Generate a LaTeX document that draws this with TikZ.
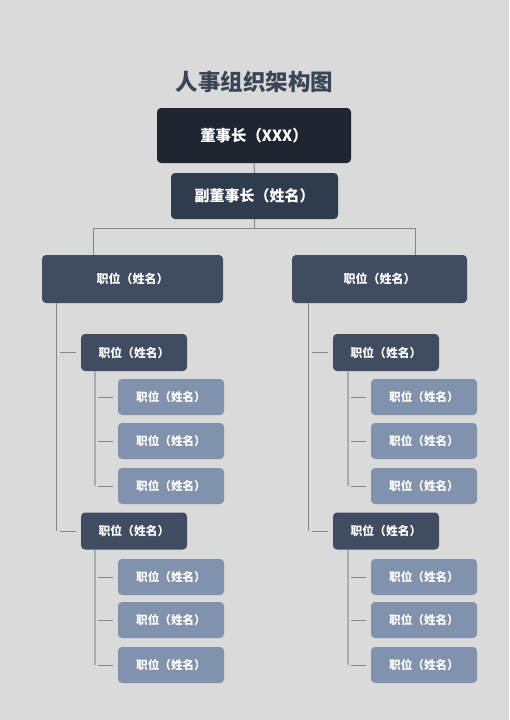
\documentclass[tikz,border=0pt]{standalone}
\usepackage{fontspec}
\setmainfont{Noto Sans CJK SC}
\usetikzlibrary{positioning}

\definecolor{pagebg}{HTML}{DADADA}
\definecolor{titlecol}{HTML}{3A4556}
\definecolor{chaircol}{HTML}{1F2632}
\definecolor{vicecol}{HTML}{2F3C4E}
\definecolor{headcol}{HTML}{3F4C61}
\definecolor{staffcol}{HTML}{8192AC}
\definecolor{linecol}{HTML}{858585}
\definecolor{trunkcol}{HTML}{ABABAB}

\begin{document}
\begin{tikzpicture}[x=1pt,y=-1pt,
  box/.style={rounded corners=4pt,inner sep=0pt,text=white,font=\bfseries},
  chairbox/.style={box,fill=chaircol,minimum width=194pt,minimum height=55pt,font=\bfseries\fontsize{15.4}{18}\selectfont},
  vicebox/.style={box,fill=vicecol,minimum width=167pt,minimum height=46pt,font=\bfseries\fontsize{15}{18}\selectfont},
  headbox/.style={box,fill=headcol,minimum height=48pt,font=\bfseries\fontsize{12}{14}\selectfont},
  leadbox/.style={box,fill=headcol,minimum width=106pt,minimum height=37pt,font=\bfseries\fontsize{11.8}{14}\selectfont},
  staffbox/.style={box,fill=staffcol,minimum width=106pt,minimum height=36pt,font=\bfseries\fontsize{11.6}{14}\selectfont},
  link/.style={draw=linecol,line width=1pt},
  trunk/.style={draw=trunkcol,line width=1.8pt}]
 \fill[pagebg] (0,0) rectangle (509,720);
 \useasboundingbox (0,0) rectangle (509,720);

 \node[text=titlecol,font=\bfseries\fontsize{22.5}{26}\selectfont] (title) at (254.5,82) {人事组织架构图};
 \node[chairbox] (chair) at (254,135.5) {董事长（XXX）};
 \node[vicebox] (vice) at (254.5,196) {副董事长（姓名）};

 \node[headbox,minimum width=181pt] (headL) at (132.5,279) {职位（姓名）};
 \node[headbox,minimum width=175pt] (headR) at (379.5,279) {职位（姓名）};

 \coordinate (barL) at (93,228);
 \coordinate (barR) at (415,228);
 \draw[link] (chair.south) -- (vice.north);
 \draw[link] (vice.south) -- (vice |- barL);
 \draw[link] (barL |- headL.north) -- (barL) -- (barR) -- (barR |- headR.north);

 \foreach \side/\hx/\lx/\sx in {L/56/134/171, R/308/386/424}{
   \node[leadbox] (lead\side1) at (\lx,352.5) {职位（姓名）};
   \node[leadbox] (lead\side2) at (\lx,531) {职位（姓名）};
   \foreach \k/\y in {1/397,2/441,3/486,4/577,5/620,6/665}
     \node[staffbox] (staff\side\k) at (\sx,\y) {职位（姓名）};

   \coordinate (hub\side) at (\hx,0);
   \draw[link] (head\side.south -| hub\side) -- (hub\side |- lead\side2.west);
   \foreach \j in {1,2}{
     \draw[link] ([xshift=4pt]hub\side |- lead\side\j.west) -- ([xshift=-5pt]lead\side\j.west);
   }
 }

 \foreach \side/\tx in {L/95, R/348}{
   \coordinate (sub\side) at (\tx,0);
   \draw[trunk] (lead\side1.south -| sub\side) -- (sub\side |- staff\side3.west);
   \draw[trunk] (lead\side2.south -| sub\side) -- (sub\side |- staff\side6.west);
   \foreach \k in {1,...,6}{
     \draw[link] ([xshift=3pt]sub\side |- staff\side\k.west) -- ([xshift=-5pt]staff\side\k.west);
   }
 }
\end{tikzpicture}
\end{document}
